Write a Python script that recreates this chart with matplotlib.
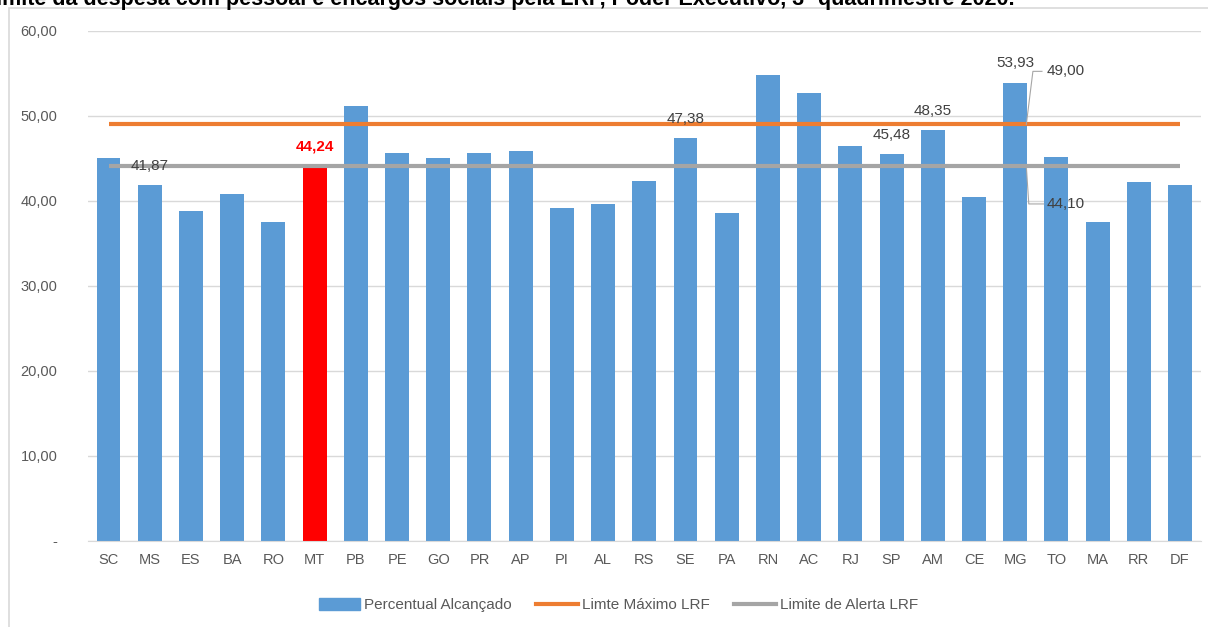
import matplotlib
matplotlib.use("Agg")
import matplotlib.pyplot as plt
from matplotlib.patches import Rectangle, Patch
from matplotlib.lines import Line2D

plt.rcParams['font.family'] = ['Liberation Sans', 'DejaVu Sans']

# dados
estados = ['SC', 'MS', 'ES', 'BA', 'RO', 'MT', 'PB', 'PE', 'GO', 'PR', 'AP', 'PI', 'AL', 'RS',
           'SE', 'PA', 'RN', 'AC', 'RJ', 'SP', 'AM', 'CE', 'MG', 'TO', 'MA', 'RR', 'DF']
percentual = [45.0, 41.87, 38.8, 40.8, 37.5, 44.24, 51.2, 45.7, 45.0, 45.6, 45.9, 39.2, 39.6, 42.4,
              47.38, 38.6, 54.8, 52.7, 46.5, 45.48, 48.35, 40.5, 53.93, 45.2, 37.5, 42.2, 41.9]
limite_maximo = 49.00
limite_alerta = 44.10
rotulados = ['MS', 'MT', 'SE', 'SP', 'AM', 'MG']
destaque = 'MT'

azul = '#5B9BD5'
laranja = '#ED7D31'
cinza = '#A5A5A5'
texto = '#404040'


def fmt(v):
    return f"{v:.2f}".replace('.', ',')


fig = plt.figure(figsize=(12.08, 6.27), dpi=100)
ax = fig.add_axes([0.0728, 0.1372, 0.9211, 0.8134])

x = list(range(len(estados)))
cores = ['#FF0000' if e == destaque else azul for e in estados]
ax.bar(x, percentual, width=0.58, color=cores, zorder=2)
ax.plot([x[0], x[-1]], [limite_maximo, limite_maximo], color=laranja, lw=3, zorder=3, solid_capstyle='butt')
ax.plot([x[0], x[-1]], [limite_alerta, limite_alerta], color=cinza, lw=3, zorder=3, solid_capstyle='butt')

# rotulos das barras
for i, e in enumerate(estados):
    if e in rotulados:
        if e == destaque:
            ax.annotate(fmt(percentual[i]), (i, percentual[i]), xytext=(0, 13), textcoords='offset points',
                        ha='center', va='center', fontsize=11, color='#FF0000', fontweight='bold', zorder=4)
        else:
            ax.annotate(fmt(percentual[i]), (i, percentual[i]), xytext=(0, 14), textcoords='offset points',
                        ha='center', va='center', fontsize=11, color=texto, zorder=4)

# rotulos das linhas com linhas de chamada
xc = 22.27
ax.plot([xc, xc + 0.16, xc + 0.38], [limite_maximo, limite_maximo + 6.25, limite_maximo + 6.25],
        color='#A6A6A6', lw=0.8, zorder=4)
ax.text(xc + 0.5, limite_maximo + 6.25, fmt(limite_maximo), ha='left', va='center', fontsize=11, color=texto)
ax.plot([xc, xc + 0.06, xc + 0.42], [limite_alerta, limite_alerta - 4.45, limite_alerta - 4.45],
        color='#A6A6A6', lw=0.8, zorder=4)
ax.text(xc + 0.5, limite_alerta - 4.45, fmt(limite_alerta), ha='left', va='center', fontsize=11, color=texto)

ax.set_xlim(-0.5, len(estados) - 0.5)
ax.set_ylim(0, 60)
ax.set_yticks(range(0, 61, 10))
ax.set_yticklabels(['-'] + [fmt(v) for v in range(10, 61, 10)])
ax.set_xticks(x)
ax.set_xticklabels(estados)
ax.tick_params(axis='y', length=0, pad=22, labelsize=10.5, labelcolor='#595959')
ax.tick_params(axis='x', length=0, pad=9, labelsize=10.5, labelcolor='#595959')
ax.grid(axis='y', color='#D9D9D9', lw=1, zorder=0)
for s in ['top', 'right', 'left']:
    ax.spines[s].set_visible(False)
ax.spines['bottom'].set_color('#D9D9D9')

handles = [Patch(color=azul), Line2D([], [], color=laranja, lw=3), Line2D([], [], color=cinza, lw=3)]
fig.legend(handles, ['Percentual Alcançado', 'Limte Máximo LRF', 'Limite de Alerta LRF'],
           loc='center', bbox_to_anchor=(0.512, 0.035), ncol=3, frameon=False, fontsize=11,
           labelcolor='#595959', handlelength=2.7, handleheight=0.8, columnspacing=1.6, handletextpad=0.3)

# moldura do grafico
fig.patches.append(Rectangle((0.0075, -0.1), 1.1, 1.087, transform=fig.transFigure,
                             fill=False, edgecolor='#D9D9D9', lw=1.2))

fig.text(-0.014, 1.0, 'Limite da despesa com pessoal e encargos sociais pela LRF, Poder Executivo, 3º quadrimestre 2020.',
         ha='left', va='center', fontsize=15.5, fontweight='bold', color='black')

fig.savefig('out.png', dpi=100)
